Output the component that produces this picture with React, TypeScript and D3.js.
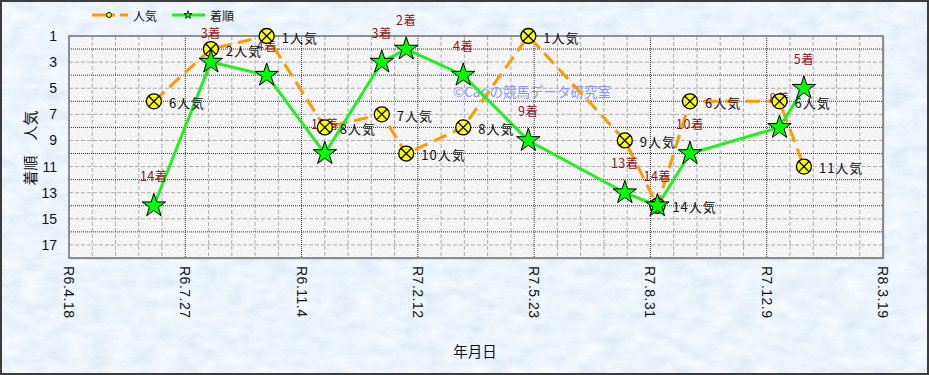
import React from 'react';
import * as d3 from 'd3';

// ---- data ----
const raceDates = [
  '2024-06-30', '2024-08-18', '2024-10-05', '2024-11-24', '2025-01-12',
  '2025-02-02', '2025-03-23', '2025-05-18', '2025-08-09', '2025-09-06',
  '2025-10-04', '2025-12-20', '2026-01-10',
];
const popularity = [6, 2, 1, 8, 7, 10, 8, 1, 9, 14, 6, 6, 11];
const finish = [14, 3, 4, 10, 3, 2, 4, 9, 13, 14, 10, 8, 5];
const tickDates = [
  '2024-04-18', '2024-07-27', '2024-11-04', '2025-02-12',
  '2025-05-23', '2025-08-31', '2025-12-09', '2026-03-19',
];
const tickLabels = ['R6.4.18', 'R6.7.27', 'R6.11.4', 'R7.2.12', 'R7.5.23', 'R7.8.31', 'R7.12.9', 'R8.3.19'];
const yTickValues = [1, 3, 5, 7, 9, 11, 13, 15, 17];
const seriesNames = ['人気', '着順'];

const W = 929;
const H = 375;
const PL = 69, PR = 883, PT = 36, PB = 258;

const JP = '"Noto Sans CJK JP", "Noto Sans", sans-serif';
const LAT = '"Liberation Sans", Arial, sans-serif';

export default function App() {
  const parse = d3.utcParse('%Y-%m-%d');
  const start = parse(tickDates[0]) as Date;
  const end = parse(tickDates[tickDates.length - 1]) as Date;
  const x = d3.scaleUtc().domain([start, end]).range([PL, PR]);
  const y = d3.scaleLinear().domain([1, 18]).range([PT, PB]);

  const pts = raceDates.map((d, i) => ({
    date: parse(d) as Date,
    pop: popularity[i],
    fin: finish[i],
  }));

  const linePop = d3.line<any>().x((d) => x(d.date)).y((d) => y(d.pop));
  const lineFin = d3.line<any>().x((d) => x(d.date)).y((d) => y(d.fin));
  const star = d3.symbol(d3.symbolStar, 170)() as string;
  const starSmall = d3.symbol(d3.symbolStar, 20)() as string;

  const totalDays = d3.utcDay.count(start, end);
  const minorX = d3.range(20, totalDays, 20)
    .filter((d) => d % 100 !== 0)
    .map((d) => d3.utcDay.offset(start, d));
  const majorX = tickDates.slice(1, -1).map((d) => parse(d) as Date);
  const majorY = d3.range(2, 18, 2);
  const minorY = d3.range(3, 18, 2);

  const r = 7.5;
  const k = r * 0.7071;

  return (
    <svg width={W} height={H} style={{ display: 'block', position: 'absolute', left: 0, top: 0 }}>
      <style>{'body{margin:0}'}</style>
      <defs>
        <filter id="bgTex" x="0" y="0" width="100%" height="100%">
          <feTurbulence type="fractalNoise" baseFrequency="0.045 0.09" numOctaves="4" seed="3" result="n" />
          <feColorMatrix in="n" type="matrix"
            values="0.28 0 0 0 0.70  0.2 0 0 0 0.80  0.1 0 0 0 0.915  0 0 0 0 1" />
        </filter>
        <filter id="plotTex" x="0" y="0" width="100%" height="100%">
          <feTurbulence type="fractalNoise" baseFrequency="0.7" numOctaves="2" seed="7" result="n" />
          <feColorMatrix in="n" type="matrix"
            values="0.28 0 0 0 0.77  0.28 0 0 0 0.77  0.28 0 0 0 0.77  0 0 0 0 1" />
        </filter>
      </defs>

      {/* background */}
      <rect x={0} y={0} width={W} height={H} fill="#d8e6f7" />
      <rect x={0} y={0} width={W} height={H} filter="url(#bgTex)" />
      <rect x={1} y={1} width={W - 2} height={H - 2} fill="none" stroke="#3c3c3c" strokeWidth={2} />

      {/* plot area */}
      <rect x={PL + 1.5} y={PT + 1.5} width={PR - PL} height={PB - PT} fill="#9aa4b0" opacity={0.4} />
      <rect x={PL} y={PT} width={PR - PL} height={PB - PT} filter="url(#plotTex)" />

      {/* grid */}
      <g>
        {minorX.map((d, i) => (
          <line key={'mx' + i} x1={x(d)} x2={x(d)} y1={PT} y2={PB} stroke="#adadad" strokeWidth={1} strokeDasharray="4,2" />
        ))}
        {minorY.map((v) => (
          <line key={'my' + v} x1={PL} x2={PR} y1={y(v)} y2={y(v)} stroke="#adadad" strokeWidth={1} strokeDasharray="4,2" />
        ))}
        {majorX.map((d, i) => (
          <line key={'Mx' + i} x1={x(d)} x2={x(d)} y1={PT} y2={PB} stroke="#333" strokeWidth={1} strokeDasharray="1,1" />
        ))}
        {majorY.map((v) => (
          <line key={'My' + v} x1={PL} x2={PR} y1={y(v)} y2={y(v)} stroke="#333" strokeWidth={1} strokeDasharray="1,1" />
        ))}
      </g>
      <rect x={PL} y={PT} width={PR - PL} height={PB - PT} fill="none" stroke="#6e6e6e" strokeWidth={1.5} />

      {/* watermark */}
      <text x={453} y={91} dominantBaseline="central" fontFamily={JP} fontSize={13.5} fill="#8797f5">
        ©Cariの競馬データ研究室
      </text>

      {/* y axis labels */}
      {yTickValues.map((v) => (
        <text key={'yt' + v} x={57} y={y(v)} textAnchor="end" dominantBaseline="central"
          fontFamily={LAT} fontSize={14} fill="#111">{v}</text>
      ))}
      <text transform={`translate(29,${148}) rotate(-90)`} textAnchor="middle" dominantBaseline="central"
        fontFamily={JP} fontSize={15} fill="#111">着順　人気</text>

      {/* x axis labels */}
      {tickDates.map((d, i) => (
        <text key={'xt' + i} transform={`translate(${x(parse(d) as Date)},${266}) rotate(90)`}
          textAnchor="start" dominantBaseline="central" fontFamily={LAT} fontSize={14} letterSpacing={0.5} fill="#111">
          {tickLabels[i]}
        </text>
      ))}
      <text x={475} y={350} textAnchor="middle" dominantBaseline="central" fontFamily={JP} fontSize={14.5} fill="#111">年月日</text>

      {/* legend */}
      <g>
        <line x1={92} x2={115} y1={15} y2={15} stroke="#ff9900" strokeWidth={3} />
        <line x1={120} x2={128} y1={15} y2={15} stroke="#ff9900" strokeWidth={3} />
        <circle cx={109} cy={15} r={2.5} fill="#ffff00" stroke="#000" strokeWidth={1} />
        <text x={133} y={15} dominantBaseline="central" fontFamily={JP} fontSize={12} fill="#111">{seriesNames[0]}</text>
        <line x1={172} x2={205} y1={15} y2={15} stroke="#22ee22" strokeWidth={3} />
        <path d={starSmall} transform="translate(188,15)" fill="#00ff00" stroke="#000" strokeWidth={0.8} />
        <text x={210} y={15} dominantBaseline="central" fontFamily={JP} fontSize={12} fill="#111">{seriesNames[1]}</text>
      </g>

      {/* popularity series */}
      <path d={linePop(pts) as string} fill="none" stroke="#ff9900" strokeWidth={3} strokeDasharray="14,7" />
      {/* finish series line */}
      <path d={lineFin(pts) as string} fill="none" stroke="#22ee22" strokeWidth={3} />

      {/* labels (finish) */}
      {pts.map((p, i) => (
        <text key={'fl' + i} x={x(p.date)} y={y(p.fin) - 30} textAnchor="middle" dominantBaseline="central"
          fontFamily={JP} fontSize={12.5} letterSpacing={0.5} fill="#8b1a1a">{p.fin}着</text>
      ))}

      {pts.map((p, i) => (
        <g key={'pm' + i} transform={`translate(${x(p.date)},${y(p.pop)})`}>
          <circle r={r} fill="#ffff00" stroke="#000" strokeWidth={1.3} />
          <line x1={-k} y1={-k} x2={k} y2={k} stroke="#000" strokeWidth={1.3} />
          <line x1={-k} y1={k} x2={k} y2={-k} stroke="#000" strokeWidth={1.3} />
        </g>
      ))}
      {pts.map((p, i) => (
        <text key={'pl' + i} x={x(p.date) + 15} y={y(p.pop) + 1} dominantBaseline="central"
          fontFamily={JP} fontSize={13} letterSpacing={1} fill="#111">{p.pop}人気</text>
      ))}

      {/* stars */}
      {pts.map((p, i) => (
        <path key={'st' + i} d={star} transform={`translate(${x(p.date)},${y(p.fin)})`}
          fill="#00ff00" stroke="#000" strokeWidth={1} strokeLinejoin="miter" />
      ))}
    </svg>
  );
}
